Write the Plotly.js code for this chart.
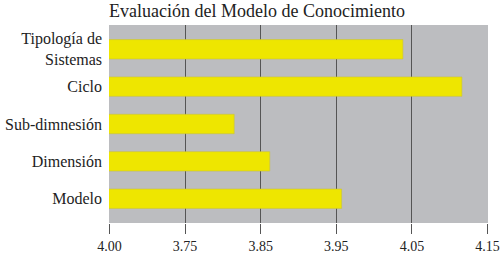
<!DOCTYPE html>
<html><head><meta charset="utf-8">
<script src="https://cdn.plot.ly/plotly-3.0.1.min.js"></script>
<style>html,body{margin:0;padding:0;background:#fff}#c{width:500px;height:253px}</style>
</head><body><div id="c"></div>
<script>
const categories = ['Modelo', 'Dimensión', 'Sub-dimnesión', 'Ciclo', 'Tipología de<br>Sistemas'];
const values = [3.957, 3.862, 3.815, 4.116, 4.038];
const tickVals = [3.65, 3.75, 3.85, 3.95, 4.05, 4.15];
const tickText = ['4.00', '3.75', '3.85', '3.95', '4.05', '4.15'];
const fontFam = 'Liberation Serif, Times New Roman, serif';

Plotly.newPlot('c', [{
  type: 'bar', orientation: 'h',
  y: categories, x: values,
  marker: {color: '#eee600', line: {color: '#c9c23a', width: 0.6}},
  hoverinfo: 'none'
}], {
  width: 500, height: 253,
  margin: {l: 109, r: 12, t: 25, b: 30},
  paper_bgcolor: '#ffffff', plot_bgcolor: '#bcbdc0',
  bargap: 0.48,
  showlegend: false,
  title: {text: 'Evaluación del Modelo de Conocimiento', x: 0, xref: 'paper', xanchor: 'left', y: 0.958, yanchor: 'middle',
          font: {family: fontFam, size: 18, color: '#222'}},
  xaxis: {range: [3.6495, 4.1505], tickvals: tickVals, ticktext: tickText,
          showgrid: true, gridcolor: '#555', gridwidth: 1,
          ticks: 'outside', ticklen: 10, tickcolor: '#555', tickwidth: 1,
          zeroline: false, showline: false, fixedrange: true,
          tickfont: {family: fontFam, size: 14, color: '#222'}},
  yaxis: {range: [-0.65, 4.65], showgrid: false, zeroline: false, showline: false,
          ticks: '', ticklabelstandoff: 6, fixedrange: true,
          tickfont: {family: fontFam, size: 16, color: '#222'}}
}, {displayModeBar: false, staticPlot: true});
</script></body></html>
